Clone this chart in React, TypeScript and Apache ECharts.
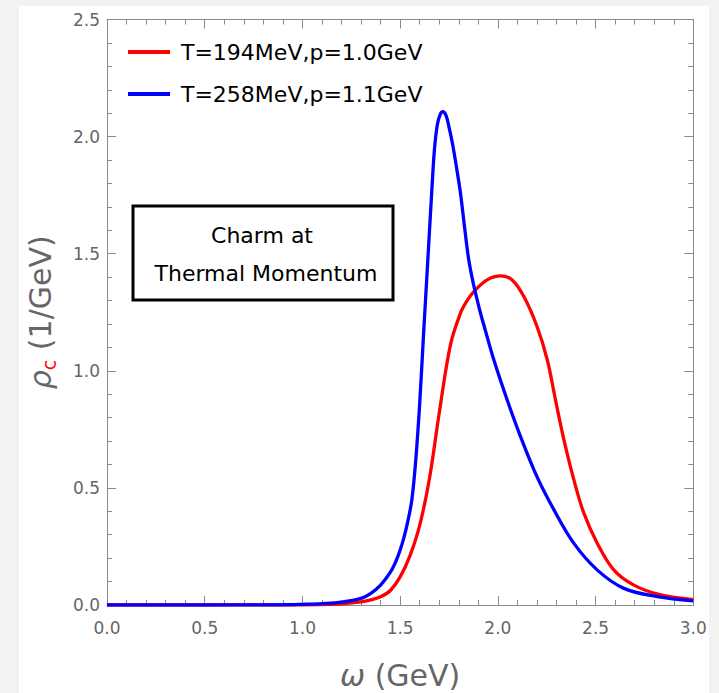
import React, { useEffect, useRef } from "react";
import * as echarts from "echarts";

// Charm spectral function, T=194 MeV, p=1.0 GeV (red)
const omegaRed = [0, 0.9, 1.1, 1.2, 1.3, 1.35, 1.4, 1.45, 1.5, 1.55, 1.6, 1.65, 1.7, 1.757, 1.808, 1.84, 1.877, 1.945, 2.015, 2.073, 2.133, 2.2, 2.253, 2.295, 2.338, 2.389, 2.44, 2.509, 2.594, 2.696, 2.833, 3.0];
const rhoRed = [0, 0, 0.002, 0.005, 0.013, 0.022, 0.035, 0.062, 0.12, 0.21, 0.34, 0.54, 0.82, 1.11, 1.245, 1.296, 1.338, 1.388, 1.405, 1.388, 1.317, 1.19, 1.046, 0.875, 0.705, 0.534, 0.392, 0.263, 0.149, 0.085, 0.043, 0.023];

// Charm spectral function, T=258 MeV, p=1.1 GeV (blue)
const omegaBlue = [0, 0.5, 0.9, 1.0, 1.1, 1.2, 1.3, 1.35, 1.4, 1.45, 1.48, 1.5, 1.52, 1.54, 1.56, 1.58, 1.6, 1.62, 1.64, 1.66, 1.675, 1.69, 1.705, 1.718, 1.735, 1.75, 1.77, 1.79, 1.81, 1.83, 1.85, 1.87, 1.885, 1.91, 1.93, 1.98, 2.05, 2.116, 2.2, 2.287, 2.389, 2.509, 2.645, 2.816, 3.0];
const rhoBlue = [0, 0, 0.001, 0.003, 0.006, 0.012, 0.028, 0.05, 0.085, 0.14, 0.19, 0.235, 0.29, 0.36, 0.45, 0.62, 0.86, 1.16, 1.45, 1.74, 1.94, 2.05, 2.095, 2.106, 2.09, 2.04, 1.96, 1.86, 1.75, 1.61, 1.48, 1.39, 1.335, 1.25, 1.19, 1.045, 0.87, 0.719, 0.548, 0.406, 0.263, 0.149, 0.071, 0.036, 0.018];

const seriesNames = ["T=194MeV,p=1.0GeV", "T=258MeV,p=1.1GeV"];
const seriesColors = ["#ff0000", "#0000ff"];
const boxLines = ["Charm at", "Thermal Momentum"];

const FONT = "DejaVu Sans";
const AXIS_GRAY = "#8a8a8a";
const LABEL_GRAY = "#666666";

function axisBase(showLabels: boolean, position: string, margin: number) {
  return {
    type: "value",
    position,
    min: 0,
    interval: 0.5,
    axisLine: { show: true, onZero: false, lineStyle: { color: AXIS_GRAY, width: 1 } },
    axisTick: { show: true, inside: true, length: 9, lineStyle: { color: AXIS_GRAY, width: 1 } },
    minorTick: { show: true, splitNumber: 5, length: 5, lineStyle: { color: AXIS_GRAY, width: 1 } },
    splitLine: { show: false },
    minorSplitLine: { show: false },
    axisLabel: {
      show: showLabels,
      margin,
      fontFamily: FONT,
      fontSize: 17,
      color: LABEL_GRAY,
      showMinLabel: true,
      showMaxLabel: true,
      formatter: (v: number) => v.toFixed(1),
    },
  };
}

export default function App() {
  const ref = useRef<HTMLDivElement>(null);
  useEffect(() => {
    const chart = echarts.init(ref.current!, null, { renderer: "svg" });
    const option: any = {
      animation: false,
      grid: { left: 88, top: 13.5, right: 15.7, bottom: 88, containLabel: false, outerBoundsMode: "none" },
      legend: {
        orient: "vertical",
        left: 104,
        top: 30,
        itemWidth: 42,
        itemHeight: 4,
        itemGap: 20,
        icon: "rect",
        data: seriesNames,
        textStyle: { fontFamily: FONT, fontSize: 22, color: "#000", padding: [0, 0, 0, 6] },
      },
      xAxis: [
        {
          ...axisBase(true, "bottom", 14),
          max: 3,
          name: "{i|ω} (GeV)",
          nameLocation: "middle",
          nameGap: 55,
          nameTextStyle: {
            fontFamily: FONT,
            fontSize: 30,
            color: LABEL_GRAY,
            rich: { i: { fontFamily: FONT, fontSize: 30, fontStyle: "italic", color: LABEL_GRAY } },
          },
        },
        { ...axisBase(false, "top", 8), max: 3 },
      ],
      yAxis: [
        {
          ...axisBase(true, "left", 7),
          max: 2.5,
          name: "{r|ρ}{c|c} (1/GeV)",
          nameLocation: "middle",
          nameGap: 49,
          nameTextStyle: {
            fontFamily: FONT,
            fontSize: 30,
            color: LABEL_GRAY,
            lineHeight: 36,
            rich: {
              r: { fontFamily: FONT, fontSize: 30, fontStyle: "italic", color: LABEL_GRAY, lineHeight: 36 },
              c: { fontFamily: FONT, fontSize: 19, color: "#ff0000", lineHeight: 36, verticalAlign: "bottom", padding: [12, 0, 0, 0] },
            },
          },
        },
        { ...axisBase(false, "right", 8), max: 2.5 },
      ],
      series: [
        {
          name: seriesNames[0],
          type: "line",
          showSymbol: false,
          smooth: 0.35,
          color: seriesColors[0],
          lineStyle: { width: 3.3, color: seriesColors[0] },
          data: omegaRed.map((x, i) => [x, rhoRed[i]]),
          z: 3,
        },
        {
          name: seriesNames[1],
          type: "line",
          showSymbol: false,
          smooth: 0.35,
          color: seriesColors[1],
          lineStyle: { width: 3.3, color: seriesColors[1] },
          data: omegaBlue.map((x, i) => [x, rhoBlue[i]]),
          z: 4,
        },
      ],
      graphic: [
        {
          type: "rect",
          shape: { x: 114, y: 200, width: 260, height: 94 },
          style: { fill: "#ffffff", stroke: "#000000", lineWidth: 3 },
          z: 10,
        },
        {
          type: "text",
          x: 243,
          y: 229,
          style: { text: boxLines[0], fontFamily: FONT, fontSize: 22, fill: "#000", align: "center", verticalAlign: "middle" },
          z: 11,
        },
        {
          type: "text",
          x: 247,
          y: 267,
          style: { text: boxLines[1], fontFamily: FONT, fontSize: 22, fill: "#000", align: "center", verticalAlign: "middle" },
          z: 11,
        },
      ],
    };
    chart.setOption(option);
    return () => chart.dispose();
  }, []);
  return (
    <div style={{ position: "fixed", left: 0, top: 0, width: 719, height: 693, background: "#f2f2f2" }}>
      <div ref={ref} style={{ position: "absolute", left: 19, top: 6, width: 690, height: 687, background: "#ffffff" }} />
    </div>
  );
}
